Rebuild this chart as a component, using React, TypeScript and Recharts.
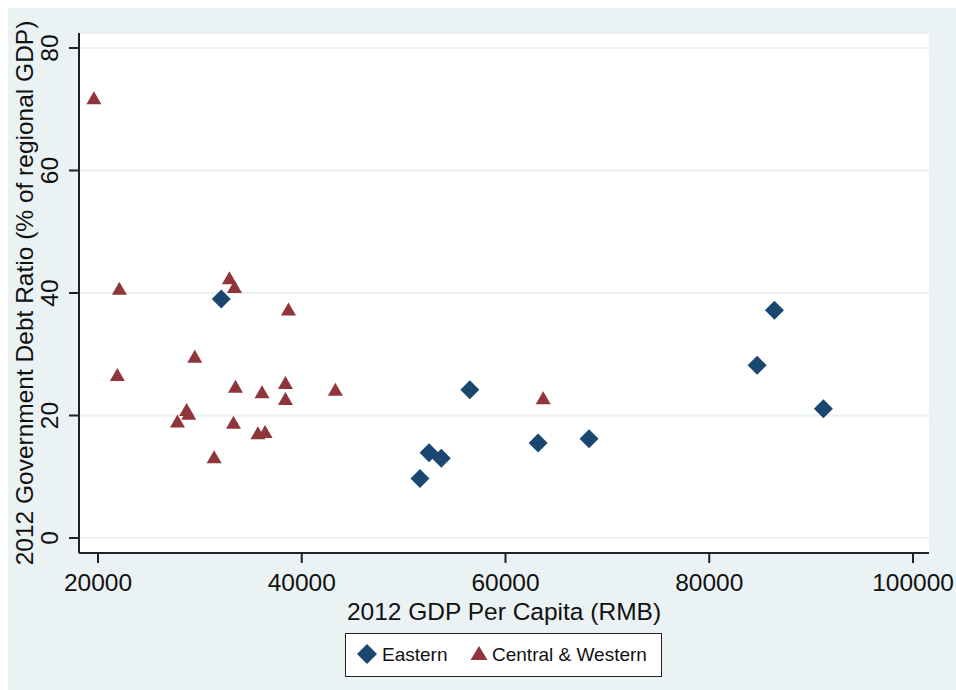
import React from "react";
import { ScatterChart, Scatter, XAxis, YAxis, CartesianGrid } from "recharts";

// 2012 GDP per capita (RMB) vs government debt ratio (% of regional GDP)
const easternGdp = [32100, 51600, 52500, 53700, 56500, 63200, 68200, 84700, 86400, 91200];
const easternDebt = [39.0, 9.7, 13.9, 13.0, 24.2, 15.5, 16.2, 28.2, 37.2, 21.1];

const centralGdp = [
  19600, 21900, 22100, 27800, 28700, 28900, 29500, 31400, 32900, 33400, 33300, 33500,
  35700, 36100, 36400, 38400, 38400, 38700, 43300, 63700,
];
const centralDebt = [
  71.8, 26.6, 40.7, 19.0, 20.9, 20.3, 29.6, 13.2, 42.4, 41.0, 18.8, 24.7, 17.1, 23.8,
  17.3, 25.3, 22.7, 37.3, 24.2, 22.8,
];

const xTicks = [20000, 40000, 60000, 80000, 100000];
const yTicks = [0, 20, 40, 60, 80];

const eastern = easternGdp.map((x, i) => ({ x, y: easternDebt[i] }));
const central = centralGdp.map((x, i) => ({ x, y: centralDebt[i] }));

const navy = "#1a476f";
const maroon = "#90353b";
const bg = "#eaf2f3";
const font = "'Liberation Sans', Arial, sans-serif";

const Diamond = (props: any) => {
  const { cx, cy } = props;
  const r = 9.5;
  return <polygon points={`${cx},${cy - r} ${cx + r},${cy} ${cx},${cy + r} ${cx - r},${cy}`} fill={navy} />;
};

const Triangle = (props: any) => {
  const { cx, cy } = props;
  return <polygon points={`${cx},${cy - 7} ${cx + 7.5},${cy + 6} ${cx - 7.5},${cy + 6}`} fill={maroon} />;
};

const XTick = (props: any) => {
  const { x, y, payload } = props;
  return (
    <text x={x} y={y} dy={26} textAnchor="middle" fontSize={24.5} fontFamily={font} fill="#111">
      {payload.value}
    </text>
  );
};

const YTick = (props: any) => {
  const { x, y, payload } = props;
  const tx = x - 9;
  return (
    <text x={tx} y={y} textAnchor="middle" fontSize={24.5} fontFamily={font} fill="#111" transform={`rotate(-90, ${tx}, ${y})`}>
      {payload.value}
    </text>
  );
};

const YTitle = (props: any) => {
  const { viewBox } = props;
  const tx = viewBox.x + 25;
  const ty = viewBox.y + viewBox.height / 2;
  return (
    <text x={tx} y={ty} textAnchor="middle" fontSize={24.5} fontFamily={font} fill="#111" transform={`rotate(-90, ${tx}, ${ty})`}>
      2012 Government Debt Ratio (% of regional GDP)
    </text>
  );
};

export default function App() {
  return (
    <div style={{ position: "fixed", left: 8, top: 8, right: 0, bottom: 0, background: bg, overflow: "hidden" }}>
      <ScatterChart width={948} height={682} margin={{ top: 25, right: 27, bottom: 0, left: 0 }}>
        <CartesianGrid vertical={false} stroke={bg} strokeWidth={2} fill="#fff" fillOpacity={1} />
        <XAxis
          type="number"
          dataKey="x"
          domain={[18137, 101569]}
          ticks={xTicks}
          allowDataOverflow
          height={137}
          tickSize={10}
          axisLine={{ stroke: "#222", strokeWidth: 2 }}
          tickLine={{ stroke: "#222", strokeWidth: 2 }}
          tick={<XTick />}
          label={{
            value: "2012 GDP Per Capita (RMB)",
            position: "insideTop",
            offset: 50,
            fontSize: 24.5,
            fontFamily: font,
            fill: "#111",
          }}
        />
        <YAxis
          type="number"
          dataKey="y"
          domain={[-2.45, 82.45]}
          ticks={yTicks}
          allowDataOverflow
          width={71}
          tickSize={10}
          axisLine={{ stroke: "#222", strokeWidth: 2 }}
          tickLine={{ stroke: "#222", strokeWidth: 2 }}
          tick={<YTick />}
          label={<YTitle />}
        />
        <Scatter name="Eastern" data={eastern} fill={navy} shape={<Diamond />} isAnimationActive={false} />
        <Scatter name="Central & Western" data={central} fill={maroon} shape={<Triangle />} isAnimationActive={false} />
      </ScatterChart>
      <div
        style={{
          position: "absolute",
          left: 337,
          top: 625,
          width: 317,
          height: 44,
          boxSizing: "border-box",
          border: "1.5px solid #222",
          background: "#fff",
        }}
      >
        <svg width={314} height={41} style={{ display: "block" }}>
          <polygon points="21,10 31,20 21,30 11,20" fill={navy} />
          <text x={36} y={27} fontSize={19} fontFamily={font} fill="#111">Eastern</text>
          <polygon points="133,12 141.5,26 124.5,26" fill={maroon} />
          <text x={146} y={27} fontSize={19} fontFamily={font} fill="#111">Central &amp; Western</text>
        </svg>
      </div>
    </div>
  );
}
